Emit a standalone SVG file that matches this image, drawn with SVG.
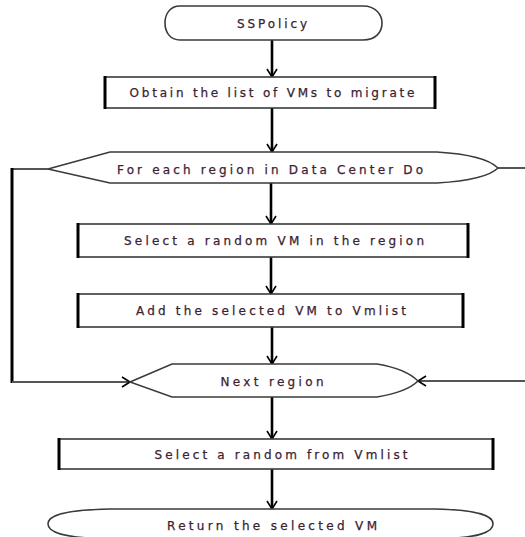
<svg xmlns="http://www.w3.org/2000/svg" width="525" height="537" viewBox="0 0 525 537">
<style>
.shape{fill:#fff;stroke:#3a3a3a;stroke-width:1.6}
.side{stroke:#000;stroke-width:3}
.t{font-family:"DejaVu Sans",Verdana,sans-serif;font-size:12px;fill:#3b2232;stroke:#3b2232;stroke-width:0.25;text-anchor:middle;dominant-baseline:central}
.flow{stroke:#000;stroke-width:2.6;fill:none}
.loop{stroke:#555;stroke-width:2;fill:none}
.loopv{stroke:#000;stroke-width:3;fill:none}
</style>
<defs>
<marker id="ah" markerWidth="12" markerHeight="12" refX="10" refY="6" orient="auto" markerUnits="userSpaceOnUse">
<path d="M2,1 L10,6 L2,11" fill="none" stroke="#000" stroke-width="1.6"/>
</marker>
</defs>
<g id="connectors">
<line class="flow" x1="272" y1="40" x2="272" y2="77" marker-end="url(#ah)"/>
<line class="flow" x1="272" y1="108" x2="272" y2="152" marker-end="url(#ah)"/>
<line class="flow" x1="271" y1="183" x2="271" y2="224" marker-end="url(#ah)"/>
<line class="flow" x1="271" y1="257" x2="271" y2="294" marker-end="url(#ah)"/>
<line class="flow" x1="272" y1="327" x2="272" y2="364" marker-end="url(#ah)"/>
<line class="flow" x1="272" y1="397" x2="272" y2="439" marker-end="url(#ah)"/>
<line class="flow" x1="272" y1="469" x2="272" y2="509" marker-end="url(#ah)"/>
<line class="loop" x1="48" y1="169" x2="12" y2="169"/>
<line class="loopv" x1="12" y1="168" x2="12" y2="383"/>
<line class="loop" x1="12" y1="382" x2="130" y2="382" marker-end="url(#ah)"/>
<line class="loop" x1="498" y1="168" x2="525" y2="168"/>
<line class="loop" x1="525" y1="381" x2="418" y2="381" marker-end="url(#ah)"/>
</g>
<g id="start">
<path class="shape" d="M180,6 L363,6 C376,6 382,15 382,23 C382,32 376,40 363,40 L180,40 C170,40 165,32 165,23 C165,14 170,6 180,6 Z"/>
<text class="t" x="272" y="24" textLength="70" lengthAdjust="spacing">SSPolicy</text>
</g>
<g id="obtain">
<rect class="shape" x="105" y="77" width="330" height="31"/>
<line class="side" x1="105" y1="76" x2="105" y2="109"/>
<line class="side" x1="435" y1="76" x2="435" y2="109"/>
<text class="t" x="272" y="93" textLength="285" lengthAdjust="spacing">Obtain the list of VMs to migrate</text>
</g>
<g id="foreach">
<path class="shape" d="M48,169 L110,152 L437,152 C470,154 490,160 498,168 C490,176 470,181 437,183 L110,183 Z"/>
<text class="t" x="270" y="170" textLength="306" lengthAdjust="spacing">For each region in Data Center Do</text>
</g>
<g id="selectvm">
<rect class="shape" x="78" y="224" width="390" height="33"/>
<line class="side" x1="78" y1="223" x2="78" y2="258"/>
<line class="side" x1="468" y1="223" x2="468" y2="258"/>
<text class="t" x="274" y="241" textLength="300" lengthAdjust="spacing">Select a random VM in the region</text>
</g>
<g id="addvm">
<rect class="shape" x="78" y="294" width="385" height="33"/>
<line class="side" x1="78" y1="293" x2="78" y2="328"/>
<line class="side" x1="463" y1="293" x2="463" y2="328"/>
<text class="t" x="271" y="311" textLength="270" lengthAdjust="spacing">Add the selected VM to Vmlist</text>
</g>
<g id="nextregion">
<path class="shape" d="M130,382 L172,364 L377,364 C395,367 410,373 418,381 C410,389 395,394 377,397 L172,397 Z"/>
<text class="t" x="272" y="382" textLength="103" lengthAdjust="spacing">Next region</text>
</g>
<g id="selectlist">
<rect class="shape" x="59" y="439" width="434" height="30"/>
<line class="side" x1="59" y1="438" x2="59" y2="470"/>
<line class="side" x1="493" y1="438" x2="493" y2="470"/>
<text class="t" x="281" y="455" textLength="253" lengthAdjust="spacing">Select a random from Vmlist</text>
</g>
<g id="return">
<path class="shape" d="M110,509 L435,509 C480,510 493,516 493,524 C493,532 480,538 435,539 L110,539 C62,538 48,532 48,524 C48,516 62,510 110,509 Z"/>
<text class="t" x="272" y="526" textLength="210" lengthAdjust="spacing">Return the selected VM</text>
</g>
</svg>
